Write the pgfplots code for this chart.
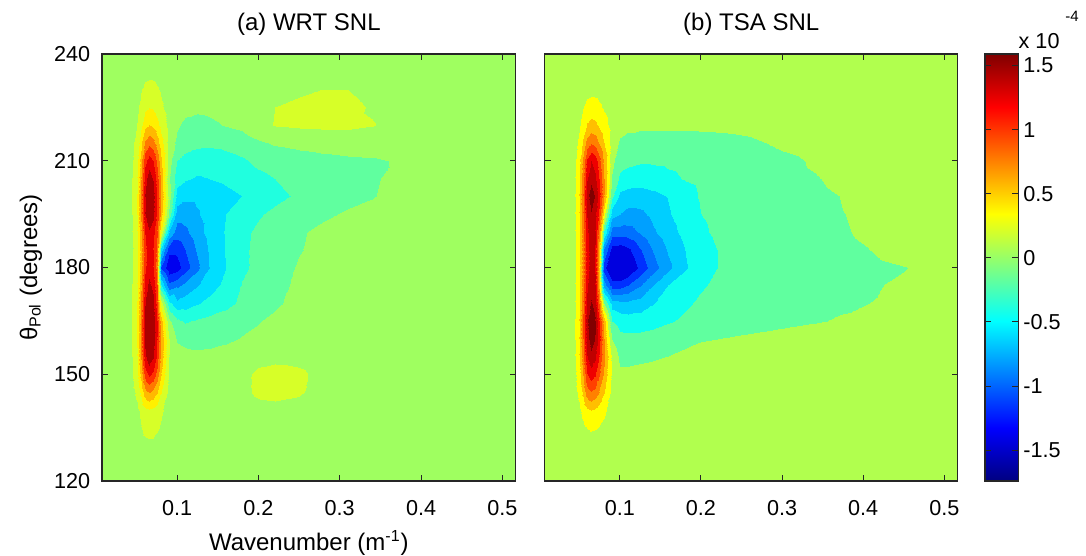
\documentclass[border=0pt]{standalone}
\usepackage{fontspec}
\setmainfont{Liberation Sans}
\usepackage{pgfplots}
\pgfplotsset{compat=1.18}
\pgfplotsset{
  colormap={wrt}{rgb255(0pt)=(0,0,239) rgb255(70pt)=(0,48,255) rgb255(90pt)=(0,112,255) rgb255(110pt)=(0,175,255) rgb255(130pt)=(0,223,255) rgb255(150pt)=(32,255,223) rgb255(170pt)=(96,255,159) rgb255(190pt)=(159,255,96) rgb255(210pt)=(215,255,40) rgb255(230pt)=(255,240,0) rgb255(250pt)=(255,185,0) rgb255(270pt)=(255,120,0) rgb255(290pt)=(255,48,0) rgb255(310pt)=(232,0,0) rgb255(330pt)=(170,0,0) rgb255(400pt)=(170,0,0)},
  colormap={tsa}{rgb255(0pt)=(0,0,223) rgb255(70pt)=(0,48,255) rgb255(90pt)=(0,112,255) rgb255(110pt)=(0,160,255) rgb255(130pt)=(0,207,255) rgb255(150pt)=(16,255,239) rgb255(170pt)=(96,255,159) rgb255(190pt)=(177,255,78) rgb255(210pt)=(255,255,0) rgb255(230pt)=(255,191,0) rgb255(250pt)=(255,128,0) rgb255(270pt)=(255,64,0) rgb255(290pt)=(239,0,0) rgb255(310pt)=(191,0,0) rgb255(330pt)=(128,0,0) rgb255(400pt)=(128,0,0)},
  panel/.style={
    scale only axis, width=206.85pt, height=213.5pt, anchor=south west,
    xmin=0.0075, xmax=0.5165, ymin=120, ymax=240,
    xtick={0.1,0.2,0.3,0.4,0.5}, xticklabels={0.1,0.2,0.3,0.4,0.5},
    ytick={120,150,180,210,240},
    tick align=inside, major tick length=3pt,
    tick style={black!85, line width=0.5pt},
    axis line style={black!85, line width=0.6pt},
    tick label style={font=\fontsize{10.8}{13}\selectfont},
    xticklabel style={yshift=-6pt},
    yticklabel style={xshift=-2.4pt},
    point meta min=-2, point meta max=2,
    colormap access=piecewise constant,
    every axis title/.style={at={(0.5,1)}, anchor=base, yshift=11.5pt, font=\fontsize{12}{14}\selectfont},
    every axis x label/.style={at={(0.5,0)}, anchor=base, yshift=-34.85pt, font=\fontsize{12}{14}\selectfont},
    every axis y label/.style={at={(-0.1721,0.5)}, rotate=90, anchor=center, font=\fontsize{12}{14}\selectfont},
    axis on top,
  },
}
\begin{document}
\begin{tikzpicture}
\useasboundingbox (0,0) rectangle (543pt,278pt);
% ---------------- (a) WRT SNL ----------------
\begin{axis}[panel, at={(51pt,37.5pt)}, colormap name=wrt,
  title={(a) WRT SNL},
  xlabel={Wavenumber (m\textsuperscript{-1})},
  ylabel={θ\textsubscript{Pol} (degrees)},
  yticklabels={120,150,180,210,240}]
\addplot[surf, shader=interp, mesh/rows=25, mesh/cols=28, point meta=explicit] coordinates {
(.0075,240)[0] (.03,240)[0] (.04,240)[0] (.045,240)[0] (.05,240)[0] (.055,240)[0] (.06,240)[0] (.065,240)[0] (.07,240)[0] (.075,240)[0] (.08,240)[0] (.09,240)[0] (.1,240)[0] (.11,240)[0] (.125,240)[0] (.14,240)[0] (.16,240)[0] (.18,240)[0] (.2,240)[0] (.22,240)[0] (.25,240)[0] (.28,240)[0] (.31,240)[0] (.34,240)[0] (.37,240)[0] (.4,240)[0] (.45,240)[0] (.5165,240)[0]
(.0075,235)[0] (.03,235)[0] (.04,235)[0] (.045,235)[0] (.05,235)[.01] (.055,235)[.03] (.06,235)[.04] (.065,235)[.05] (.07,235)[.05] (.075,235)[.036] (.08,235)[.023] (.09,235)[0] (.1,235)[0] (.11,235)[0] (.125,235)[0] (.14,235)[0] (.16,235)[0] (.18,235)[0] (.2,235)[0] (.22,235)[0] (.25,235)[0] (.28,235)[0] (.31,235)[0] (.34,235)[0] (.37,235)[0] (.4,235)[0] (.45,235)[0] (.5165,235)[0]
(.0075,230)[0] (.03,230)[0] (.04,230)[0] (.045,230)[.01] (.05,230)[.03] (.055,230)[.09] (.06,230)[.15] (.065,230)[.17] (.07,230)[.16] (.075,230)[.12] (.08,230)[.08] (.09,230)[.01] (.1,230)[0] (.11,230)[0] (.125,230)[0] (.14,230)[0] (.16,230)[0] (.18,230)[0] (.2,230)[0] (.22,230)[0] (.25,230)[.07] (.28,230)[.105] (.31,230)[.1] (.34,230)[.04] (.37,230)[0] (.4,230)[0] (.45,230)[0] (.5165,230)[0]
(.0075,225)[0] (.03,225)[0] (.04,225)[.01] (.045,225)[.02] (.05,225)[.06] (.055,225)[.15] (.06,225)[.25] (.065,225)[.29] (.07,225)[.27] (.075,225)[.21] (.08,225)[.13] (.09,225)[.02] (.1,225)[-.03] (.11,225)[-.06] (.125,225)[-.07] (.14,225)[-.06] (.16,225)[-.03] (.18,225)[0] (.2,225)[.05] (.22,225)[.1] (.25,225)[.14] (.28,225)[.16] (.31,225)[.15] (.34,225)[.08] (.37,225)[.03] (.4,225)[0] (.45,225)[0] (.5165,225)[0]
(.0075,220)[0] (.03,220)[0] (.04,220)[.01] (.045,220)[.04] (.05,220)[.1] (.055,220)[.25] (.06,220)[.44] (.065,220)[.5] (.07,220)[.46] (.075,220)[.36] (.08,220)[.23] (.09,220)[.03] (.1,220)[-.08] (.11,220)[-.13] (.125,220)[-.15] (.14,220)[-.13] (.16,220)[-.09] (.18,220)[-.05] (.2,220)[.04] (.22,220)[.11] (.25,220)[.13] (.28,220)[.14] (.31,220)[.14] (.34,220)[.11] (.37,220)[.04] (.4,220)[0] (.45,220)[0] (.5165,220)[0]
(.0075,215)[0] (.03,215)[0] (.04,215)[.02] (.045,215)[.06] (.05,215)[.17] (.055,215)[.43] (.06,215)[.74] (.065,215)[.85] (.07,215)[.78] (.075,215)[.61] (.08,215)[.38] (.09,215)[.01] (.1,215)[-.14] (.11,215)[-.2] (.125,215)[-.25] (.14,215)[-.26] (.16,215)[-.24] (.18,215)[-.2] (.2,215)[-.13] (.22,215)[-.08] (.25,215)[-.05] (.28,215)[-.03] (.31,215)[-.02] (.34,215)[-.01] (.37,215)[0] (.4,215)[0] (.45,215)[0] (.5165,215)[0]
(.0075,210)[0] (.03,210)[0] (.04,210)[.02] (.045,210)[.08] (.05,210)[.24] (.055,210)[.6] (.06,210)[1.04] (.065,210)[1.2] (.07,210)[1.1] (.075,210)[.86] (.08,210)[.54] (.09,210)[-.02] (.1,210)[-.3] (.11,210)[-.38] (.125,210)[-.42] (.14,210)[-.42] (.16,210)[-.38] (.18,210)[-.33] (.2,210)[-.26] (.22,210)[-.22] (.25,210)[-.18] (.28,210)[-.15] (.31,210)[-.13] (.34,210)[-.12] (.37,210)[-.09] (.4,210)[-.03] (.45,210)[0] (.5165,210)[0]
(.0075,205)[0] (.03,205)[0] (.04,205)[.03] (.045,205)[.1] (.05,205)[.28] (.055,205)[.7] (.06,205)[1.22] (.065,205)[1.4] (.07,205)[1.29] (.075,205)[1] (.08,205)[.63] (.09,205)[-.08] (.1,205)[-.42] (.11,205)[-.48] (.125,205)[-.52] (.14,205)[-.5] (.16,205)[-.46] (.18,205)[-.4] (.2,205)[-.35] (.22,205)[-.3] (.25,205)[-.22] (.28,205)[-.18] (.31,205)[-.15] (.34,205)[-.12] (.37,205)[-.06] (.4,205)[-.02] (.45,205)[0] (.5165,205)[0]
(.0075,200)[0] (.03,200)[0] (.04,200)[.03] (.045,200)[.1] (.05,200)[.3] (.055,200)[.75] (.06,200)[1.3] (.065,200)[1.5] (.07,200)[1.38] (.075,200)[1.08] (.08,200)[.68] (.09,200)[0] (.1,200)[-.58] (.11,200)[-.65] (.125,200)[-.66] (.14,200)[-.62] (.16,200)[-.56] (.18,200)[-.5] (.2,200)[-.42] (.22,200)[-.35] (.25,200)[-.27] (.28,200)[-.2] (.31,200)[-.15] (.34,200)[-.11] (.37,200)[-.05] (.4,200)[-.02] (.45,200)[0] (.5165,200)[0]
(.0075,195)[0] (.03,195)[0] (.04,195)[.03] (.045,195)[.1] (.05,195)[.3] (.055,195)[.74] (.06,195)[1.29] (.065,195)[1.48] (.07,195)[1.36] (.075,195)[1.07] (.08,195)[.6] (.09,195)[-.15] (.1,195)[-.8] (.11,195)[-.8] (.125,195)[-.72] (.14,195)[-.62] (.16,195)[-.5] (.18,195)[-.4] (.2,195)[-.32] (.22,195)[-.26] (.25,195)[-.18] (.28,195)[-.13] (.31,195)[-.08] (.34,195)[-.05] (.37,195)[-.02] (.4,195)[0] (.45,195)[0] (.5165,195)[0]
(.0075,190)[0] (.03,190)[0] (.04,190)[.03] (.045,190)[.09] (.05,190)[.26] (.055,190)[.64] (.06,190)[1.11] (.065,190)[1.28] (.07,190)[1.18] (.075,190)[.92] (.08,190)[.3] (.09,190)[-.7] (.1,190)[-1] (.11,190)[-.95] (.125,190)[-.78] (.14,190)[-.62] (.16,190)[-.48] (.18,190)[-.34] (.2,190)[-.27] (.22,190)[-.21] (.25,190)[-.12] (.28,190)[-.06] (.31,190)[-.03] (.34,190)[0] (.37,190)[0] (.4,190)[0] (.45,190)[0] (.5165,190)[0]
(.0075,185)[0] (.03,185)[0] (.04,185)[.02] (.045,185)[.08] (.05,185)[.24] (.055,185)[.6] (.06,185)[1.04] (.065,185)[1.2] (.07,185)[1.1] (.075,185)[.85] (.08,185)[-.6] (.09,185)[-1.25] (.1,185)[-1.25] (.11,185)[-1.1] (.125,185)[-.88] (.14,185)[-.66] (.16,185)[-.48] (.18,185)[-.33] (.2,185)[-.26] (.22,185)[-.19] (.25,185)[-.11] (.28,185)[-.05] (.31,185)[-.02] (.34,185)[0] (.37,185)[0] (.4,185)[0] (.45,185)[0] (.5165,185)[0]
(.0075,180)[0] (.03,180)[0] (.04,180)[.02] (.045,180)[.09] (.05,180)[.24] (.055,180)[.61] (.06,180)[1.06] (.065,180)[1.22] (.07,180)[1.12] (.075,180)[.8] (.08,180)[-1.1] (.09,180)[-1.45] (.1,180)[-1.38] (.11,180)[-1.2] (.125,180)[-.95] (.14,180)[-.68] (.16,180)[-.5] (.18,180)[-.33] (.2,180)[-.26] (.22,180)[-.19] (.25,180)[-.08] (.28,180)[-.04] (.31,180)[-.02] (.34,180)[0] (.37,180)[0] (.4,180)[0] (.45,180)[0] (.5165,180)[0]
(.0075,175)[0] (.03,175)[0] (.04,175)[.03] (.045,175)[.1] (.05,175)[.27] (.055,175)[.68] (.06,175)[1.18] (.065,175)[1.35] (.07,175)[1.24] (.075,175)[.9] (.08,175)[-.5] (.09,175)[-1.05] (.1,175)[-.95] (.11,175)[-.85] (.125,175)[-.72] (.14,175)[-.58] (.16,175)[-.45] (.18,175)[-.29] (.2,175)[-.22] (.22,175)[-.16] (.25,175)[-.06] (.28,175)[-.02] (.31,175)[0] (.34,175)[0] (.37,175)[0] (.4,175)[0] (.45,175)[0] (.5165,175)[0]
(.0075,170)[0] (.03,170)[0] (.04,170)[.03] (.045,170)[.1] (.05,170)[.3] (.055,170)[.74] (.06,170)[1.29] (.065,170)[1.48] (.07,170)[1.36] (.075,170)[1] (.08,170)[.2] (.09,170)[-.45] (.1,170)[-.65] (.11,170)[-.6] (.125,170)[-.52] (.14,170)[-.44] (.16,170)[-.36] (.18,170)[-.26] (.2,170)[-.2] (.22,170)[-.13] (.25,170)[-.04] (.28,170)[-.01] (.31,170)[0] (.34,170)[0] (.37,170)[0] (.4,170)[0] (.45,170)[0] (.5165,170)[0]
(.0075,165)[0] (.03,165)[0] (.04,165)[.03] (.045,165)[.11] (.05,165)[.31] (.055,165)[.78] (.06,165)[1.35] (.065,165)[1.55] (.07,165)[1.43] (.075,165)[1.1] (.08,165)[.6] (.09,165)[-.05] (.1,165)[-.26] (.11,165)[-.32] (.125,165)[-.28] (.14,165)[-.24] (.16,165)[-.2] (.18,165)[-.15] (.2,165)[-.11] (.22,165)[-.06] (.25,165)[-.01] (.28,165)[0] (.31,165)[0] (.34,165)[0] (.37,165)[0] (.4,165)[0] (.45,165)[0] (.5165,165)[0]
(.0075,160)[0] (.03,160)[0] (.04,160)[.03] (.045,160)[.11] (.05,160)[.31] (.055,160)[.78] (.06,160)[1.35] (.065,160)[1.55] (.07,160)[1.43] (.075,160)[1.1] (.08,160)[.68] (.09,160)[.1] (.1,160)[-.12] (.11,160)[-.15] (.125,160)[-.17] (.14,160)[-.16] (.16,160)[-.13] (.18,160)[-.09] (.2,160)[-.06] (.22,160)[-.03] (.25,160)[0] (.28,160)[0] (.31,160)[0] (.34,160)[0] (.37,160)[0] (.4,160)[0] (.45,160)[0] (.5165,160)[0]
(.0075,155)[0] (.03,155)[0] (.04,155)[.03] (.045,155)[.1] (.05,155)[.29] (.055,155)[.73] (.06,155)[1.26] (.065,155)[1.45] (.07,155)[1.33] (.075,155)[1.04] (.08,155)[.65] (.09,155)[.1] (.1,155)[-.02] (.11,155)[-.05] (.125,155)[-.06] (.14,155)[-.05] (.16,155)[-.03] (.18,155)[0] (.2,155)[.05] (.22,155)[.06] (.25,155)[.05] (.28,155)[.01] (.31,155)[0] (.34,155)[0] (.37,155)[0] (.4,155)[0] (.45,155)[0] (.5165,155)[0]
(.0075,150)[0] (.03,150)[0] (.04,150)[.02] (.045,150)[.08] (.05,150)[.23] (.055,150)[.58] (.06,150)[1] (.065,150)[1.15] (.07,150)[1.06] (.075,150)[.83] (.08,150)[.52] (.09,150)[.08] (.1,150)[.01] (.11,150)[0] (.125,150)[0] (.14,150)[0] (.16,150)[0] (.18,150)[.06] (.2,150)[.13] (.22,150)[.15] (.25,150)[.13] (.28,150)[.05] (.31,150)[0] (.34,150)[0] (.37,150)[0] (.4,150)[0] (.45,150)[0] (.5165,150)[0]
(.0075,145)[0] (.03,145)[0] (.04,145)[.01] (.045,145)[.05] (.05,145)[.14] (.055,145)[.36] (.06,145)[.63] (.065,145)[.72] (.07,145)[.66] (.075,145)[.52] (.08,145)[.32] (.09,145)[.05] (.1,145)[0] (.11,145)[0] (.125,145)[0] (.14,145)[0] (.16,145)[0] (.18,145)[.06] (.2,145)[.13] (.22,145)[.14] (.25,145)[.12] (.28,145)[.03] (.31,145)[0] (.34,145)[0] (.37,145)[0] (.4,145)[0] (.45,145)[0] (.5165,145)[0]
(.0075,140)[0] (.03,140)[0] (.04,140)[.01] (.045,140)[.02] (.05,140)[.06] (.055,140)[.14] (.06,140)[.24] (.065,140)[.28] (.07,140)[.26] (.075,140)[.2] (.08,140)[.13] (.09,140)[.02] (.1,140)[0] (.11,140)[0] (.125,140)[0] (.14,140)[0] (.16,140)[0] (.18,140)[0] (.2,140)[.05] (.22,140)[.06] (.25,140)[.04] (.28,140)[0] (.31,140)[0] (.34,140)[0] (.37,140)[0] (.4,140)[0] (.45,140)[0] (.5165,140)[0]
(.0075,135)[0] (.03,135)[0] (.04,135)[0] (.045,135)[.01] (.05,135)[.03] (.055,135)[.09] (.06,135)[.15] (.065,135)[.17] (.07,135)[.16] (.075,135)[.12] (.08,135)[.08] (.09,135)[.01] (.1,135)[0] (.11,135)[0] (.125,135)[0] (.14,135)[0] (.16,135)[0] (.18,135)[0] (.2,135)[0] (.22,135)[0] (.25,135)[0] (.28,135)[0] (.31,135)[0] (.34,135)[0] (.37,135)[0] (.4,135)[0] (.45,135)[0] (.5165,135)[0]
(.0075,130)[0] (.03,130)[0] (.04,130)[0] (.045,130)[0] (.05,130)[.01] (.055,130)[.03] (.06,130)[.05] (.065,130)[.06] (.07,130)[.06] (.075,130)[.04] (.08,130)[.03] (.09,130)[0] (.1,130)[0] (.11,130)[0] (.125,130)[0] (.14,130)[0] (.16,130)[0] (.18,130)[0] (.2,130)[0] (.22,130)[0] (.25,130)[0] (.28,130)[0] (.31,130)[0] (.34,130)[0] (.37,130)[0] (.4,130)[0] (.45,130)[0] (.5165,130)[0]
(.0075,125)[0] (.03,125)[0] (.04,125)[0] (.045,125)[0] (.05,125)[0] (.055,125)[0] (.06,125)[0] (.065,125)[0] (.07,125)[0] (.075,125)[0] (.08,125)[0] (.09,125)[0] (.1,125)[0] (.11,125)[0] (.125,125)[0] (.14,125)[0] (.16,125)[0] (.18,125)[0] (.2,125)[0] (.22,125)[0] (.25,125)[0] (.28,125)[0] (.31,125)[0] (.34,125)[0] (.37,125)[0] (.4,125)[0] (.45,125)[0] (.5165,125)[0]
(.0075,120)[0] (.03,120)[0] (.04,120)[0] (.045,120)[0] (.05,120)[0] (.055,120)[0] (.06,120)[0] (.065,120)[0] (.07,120)[0] (.075,120)[0] (.08,120)[0] (.09,120)[0] (.1,120)[0] (.11,120)[0] (.125,120)[0] (.14,120)[0] (.16,120)[0] (.18,120)[0] (.2,120)[0] (.22,120)[0] (.25,120)[0] (.28,120)[0] (.31,120)[0] (.34,120)[0] (.37,120)[0] (.4,120)[0] (.45,120)[0] (.5165,120)[0]
};
\end{axis}
% ---------------- (b) TSA SNL ----------------
\begin{axis}[panel, at={(272.35pt,37.5pt)}, width=206.5pt, colormap name=tsa,
  title={(b) TSA SNL},
  yticklabels={}]
\addplot[surf, shader=interp, mesh/rows=25, mesh/cols=28, point meta=explicit] coordinates {
(.0075,240)[0] (.03,240)[0] (.04,240)[0] (.045,240)[0] (.05,240)[0] (.055,240)[0] (.06,240)[0] (.065,240)[0] (.07,240)[0] (.075,240)[0] (.08,240)[0] (.09,240)[0] (.1,240)[0] (.11,240)[0] (.125,240)[0] (.14,240)[0] (.16,240)[0] (.18,240)[0] (.2,240)[0] (.22,240)[0] (.25,240)[0] (.28,240)[0] (.31,240)[0] (.34,240)[0] (.37,240)[0] (.4,240)[0] (.45,240)[0] (.5165,240)[0]
(.0075,235)[0] (.03,235)[0] (.04,235)[0] (.045,235)[0] (.05,235)[0] (.055,235)[0] (.06,235)[0] (.065,235)[0] (.07,235)[0] (.075,235)[0] (.08,235)[0] (.09,235)[0] (.1,235)[0] (.11,235)[0] (.125,235)[0] (.14,235)[0] (.16,235)[0] (.18,235)[0] (.2,235)[0] (.22,235)[0] (.25,235)[0] (.28,235)[0] (.31,235)[0] (.34,235)[0] (.37,235)[0] (.4,235)[0] (.45,235)[0] (.5165,235)[0]
(.0075,230)[0] (.03,230)[0] (.04,230)[0] (.045,230)[0] (.05,230)[.01] (.055,230)[.03] (.06,230)[.04] (.065,230)[.05] (.07,230)[.05] (.075,230)[.04] (.08,230)[.02] (.09,230)[0] (.1,230)[0] (.11,230)[0] (.125,230)[0] (.14,230)[0] (.16,230)[0] (.18,230)[0] (.2,230)[0] (.22,230)[0] (.25,230)[0] (.28,230)[0] (.31,230)[0] (.34,230)[0] (.37,230)[0] (.4,230)[0] (.45,230)[0] (.5165,230)[0]
(.0075,225)[0] (.03,225)[0] (.04,225)[0] (.045,225)[.01] (.05,225)[.04] (.055,225)[.09] (.06,225)[.16] (.065,225)[.18] (.07,225)[.17] (.075,225)[.13] (.08,225)[.08] (.09,225)[.01] (.1,225)[0] (.11,225)[0] (.125,225)[0] (.14,225)[0] (.16,225)[0] (.18,225)[0] (.2,225)[0] (.22,225)[0] (.25,225)[0] (.28,225)[0] (.31,225)[0] (.34,225)[0] (.37,225)[0] (.4,225)[0] (.45,225)[0] (.5165,225)[0]
(.0075,220)[0] (.03,220)[0] (.04,220)[.01] (.045,220)[.03] (.05,220)[.07] (.055,220)[.19] (.06,220)[.32] (.065,220)[.37] (.07,220)[.34] (.075,220)[.27] (.08,220)[.17] (.09,220)[.03] (.1,220)[-.03] (.11,220)[-.06] (.125,220)[-.06] (.14,220)[-.06] (.16,220)[-.06] (.18,220)[-.06] (.2,220)[-.06] (.22,220)[-.06] (.25,220)[-.05] (.28,220)[-.03] (.31,220)[-.01] (.34,220)[0] (.37,220)[0] (.4,220)[0] (.45,220)[0] (.5165,220)[0]
(.0075,215)[0] (.03,215)[0] (.04,215)[.01] (.045,215)[.05] (.05,215)[.14] (.055,215)[.34] (.06,215)[.59] (.065,215)[.68] (.07,215)[.63] (.075,215)[.49] (.08,215)[.3] (.09,215)[0] (.1,215)[-.13] (.11,215)[-.16] (.125,215)[-.19] (.14,215)[-.2] (.16,215)[-.2] (.18,215)[-.19] (.2,215)[-.17] (.22,215)[-.16] (.25,215)[-.14] (.28,215)[-.1] (.31,215)[-.06] (.34,215)[-.03] (.37,215)[-.01] (.4,215)[0] (.45,215)[0] (.5165,215)[0]
(.0075,210)[0] (.03,210)[0] (.04,210)[.02] (.045,210)[.08] (.05,210)[.22] (.055,210)[.55] (.06,210)[.96] (.065,210)[1.1] (.07,210)[1.01] (.075,210)[.79] (.08,210)[.45] (.09,210)[-.05] (.1,210)[-.22] (.11,210)[-.26] (.125,210)[-.28] (.14,210)[-.28] (.16,210)[-.27] (.18,210)[-.25] (.2,210)[-.22] (.22,210)[-.2] (.25,210)[-.18] (.28,210)[-.16] (.31,210)[-.13] (.34,210)[-.08] (.37,210)[-.04] (.4,210)[-.01] (.45,210)[0] (.5165,210)[0]
(.0075,205)[0] (.03,205)[0] (.04,205)[.03] (.045,205)[.09] (.05,205)[.25] (.055,205)[.63] (.06,205)[1.09] (.065,205)[1.25] (.07,205)[1.15] (.075,205)[.9] (.08,205)[.5] (.09,205)[-.12] (.1,205)[-.35] (.11,205)[-.38] (.125,205)[-.4] (.14,205)[-.38] (.16,205)[-.34] (.18,205)[-.29] (.2,205)[-.26] (.22,205)[-.23] (.25,205)[-.2] (.28,205)[-.17] (.31,205)[-.14] (.34,205)[-.11] (.37,205)[-.07] (.4,205)[-.03] (.45,205)[0] (.5165,205)[0]
(.0075,200)[0] (.03,200)[0] (.04,200)[.03] (.045,200)[.1] (.05,200)[.28] (.055,200)[.7] (.06,200)[1.22] (.065,200)[1.4] (.07,200)[1.29] (.075,200)[1] (.08,200)[.5] (.09,200)[-.25] (.1,200)[-.55] (.11,200)[-.6] (.125,200)[-.6] (.14,200)[-.56] (.16,200)[-.49] (.18,200)[-.38] (.2,200)[-.28] (.22,200)[-.25] (.25,200)[-.22] (.28,200)[-.19] (.31,200)[-.16] (.34,200)[-.13] (.37,200)[-.1] (.4,200)[-.05] (.45,200)[-.01] (.5165,200)[0]
(.0075,195)[0] (.03,195)[0] (.04,195)[.03] (.045,195)[.09] (.05,195)[.26] (.055,195)[.64] (.06,195)[1.11] (.065,195)[1.28] (.07,195)[1.18] (.075,195)[.85] (.08,195)[.2] (.09,195)[-.6] (.1,195)[-.7] (.11,195)[-.76] (.125,195)[-.74] (.14,195)[-.66] (.16,195)[-.52] (.18,195)[-.4] (.2,195)[-.3] (.22,195)[-.26] (.25,195)[-.23] (.28,195)[-.2] (.31,195)[-.17] (.34,195)[-.14] (.37,195)[-.11] (.4,195)[-.07] (.45,195)[-.02] (.5165,195)[0]
(.0075,190)[0] (.03,190)[0] (.04,190)[.02] (.045,190)[.09] (.05,190)[.24] (.055,190)[.61] (.06,190)[1.06] (.065,190)[1.22] (.07,190)[1.12] (.075,190)[.6] (.08,190)[-.3] (.09,190)[-1] (.1,190)[-1] (.11,190)[-.98] (.125,190)[-.88] (.14,190)[-.74] (.16,190)[-.58] (.18,190)[-.44] (.2,190)[-.33] (.22,190)[-.27] (.25,190)[-.24] (.28,190)[-.21] (.31,190)[-.18] (.34,190)[-.15] (.37,190)[-.12] (.4,190)[-.08] (.45,190)[-.03] (.5165,190)[0]
(.0075,185)[0] (.03,185)[0] (.04,185)[.02] (.045,185)[.08] (.05,185)[.24] (.055,185)[.59] (.06,185)[1.03] (.065,185)[1.18] (.07,185)[1.09] (.075,185)[.4] (.08,185)[-.9] (.09,185)[-1.4] (.1,185)[-1.42] (.11,185)[-1.35] (.125,185)[-1.12] (.14,185)[-.9] (.16,185)[-.68] (.18,185)[-.5] (.2,185)[-.37] (.22,185)[-.3] (.25,185)[-.26] (.28,185)[-.23] (.31,185)[-.2] (.34,185)[-.17] (.37,185)[-.14] (.4,185)[-.11] (.45,185)[-.05] (.5165,185)[-.01]
(.0075,180)[0] (.03,180)[0] (.04,180)[.02] (.045,180)[.08] (.05,180)[.24] (.055,180)[.59] (.06,180)[1.03] (.065,180)[1.18] (.07,180)[1.09] (.075,180)[.35] (.08,180)[-1.2] (.09,180)[-1.62] (.1,180)[-1.6] (.11,180)[-1.5] (.125,180)[-1.25] (.14,180)[-1] (.16,180)[-.75] (.18,180)[-.52] (.2,180)[-.38] (.22,180)[-.3] (.25,180)[-.27] (.28,180)[-.24] (.31,180)[-.21] (.34,180)[-.18] (.37,180)[-.16] (.4,180)[-.14] (.45,180)[-.105] (.5165,180)[-.02]
(.0075,175)[0] (.03,175)[0] (.04,175)[.02] (.045,175)[.09] (.05,175)[.24] (.055,175)[.61] (.06,175)[1.06] (.065,175)[1.22] (.07,175)[1.12] (.075,175)[.45] (.08,175)[-.8] (.09,175)[-1.2] (.1,175)[-1.2] (.11,175)[-1.1] (.125,175)[-.92] (.14,175)[-.72] (.16,175)[-.5] (.18,175)[-.4] (.2,175)[-.32] (.22,175)[-.27] (.25,175)[-.24] (.28,175)[-.21] (.31,175)[-.18] (.34,175)[-.16] (.37,175)[-.14] (.4,175)[-.12] (.45,175)[-.08] (.5165,175)[-.01]
(.0075,170)[0] (.03,170)[0] (.04,170)[.03] (.045,170)[.09] (.05,170)[.26] (.055,170)[.66] (.06,170)[1.15] (.065,170)[1.32] (.07,170)[1.21] (.075,170)[.7] (.08,170)[-.1] (.09,170)[-.6] (.1,170)[-.65] (.11,170)[-.66] (.125,170)[-.62] (.14,170)[-.52] (.16,170)[-.4] (.18,170)[-.33] (.2,170)[-.27] (.22,170)[-.23] (.25,170)[-.2] (.28,170)[-.18] (.31,170)[-.16] (.34,170)[-.14] (.37,170)[-.12] (.4,170)[-.11] (.45,170)[-.05] (.5165,170)[0]
(.0075,165)[0] (.03,165)[0] (.04,165)[.03] (.045,165)[.1] (.05,165)[.29] (.055,165)[.73] (.06,165)[1.26] (.065,165)[1.45] (.07,165)[1.33] (.075,165)[.95] (.08,165)[.4] (.09,165)[-.3] (.1,165)[-.38] (.11,165)[-.4] (.125,165)[-.4] (.14,165)[-.37] (.16,165)[-.32] (.18,165)[-.27] (.2,165)[-.23] (.22,165)[-.2] (.25,165)[-.17] (.28,165)[-.15] (.31,165)[-.13] (.34,165)[-.11] (.37,165)[-.09] (.4,165)[-.05] (.45,165)[-.01] (.5165,165)[0]
(.0075,160)[0] (.03,160)[0] (.04,160)[.03] (.045,160)[.1] (.05,160)[.28] (.055,160)[.7] (.06,160)[1.22] (.065,160)[1.4] (.07,160)[1.29] (.075,160)[1] (.08,160)[.5] (.09,160)[-.1] (.1,160)[-.24] (.11,160)[-.25] (.125,160)[-.24] (.14,160)[-.22] (.16,160)[-.18] (.18,160)[-.14] (.2,160)[-.11] (.22,160)[-.1] (.25,160)[-.08] (.28,160)[-.06] (.31,160)[-.04] (.34,160)[-.03] (.37,160)[-.02] (.4,160)[0] (.45,160)[0] (.5165,160)[0]
(.0075,155)[0] (.03,155)[0] (.04,155)[.03] (.045,155)[.09] (.05,155)[.25] (.055,155)[.63] (.06,155)[1.09] (.065,155)[1.25] (.07,155)[1.15] (.075,155)[.9] (.08,155)[.56] (.09,155)[.05] (.1,155)[-.14] (.11,155)[-.14] (.125,155)[-.13] (.14,155)[-.12] (.16,155)[-.1] (.18,155)[-.07] (.2,155)[-.05] (.22,155)[-.03] (.25,155)[-.02] (.28,155)[0] (.31,155)[0] (.34,155)[0] (.37,155)[0] (.4,155)[0] (.45,155)[0] (.5165,155)[0]
(.0075,150)[0] (.03,150)[0] (.04,150)[.02] (.045,150)[.07] (.05,150)[.2] (.055,150)[.51] (.06,150)[.89] (.065,150)[1.02] (.07,150)[.94] (.075,150)[.73] (.08,150)[.46] (.09,150)[.07] (.1,150)[-.07] (.11,150)[-.07] (.125,150)[-.06] (.14,150)[-.05] (.16,150)[-.03] (.18,150)[-.02] (.2,150)[0] (.22,150)[0] (.25,150)[0] (.28,150)[0] (.31,150)[0] (.34,150)[0] (.37,150)[0] (.4,150)[0] (.45,150)[0] (.5165,150)[0]
(.0075,145)[0] (.03,145)[0] (.04,145)[.01] (.045,145)[.05] (.05,145)[.14] (.055,145)[.35] (.06,145)[.61] (.065,145)[.7] (.07,145)[.64] (.075,145)[.5] (.08,145)[.32] (.09,145)[.05] (.1,145)[0] (.11,145)[0] (.125,145)[0] (.14,145)[0] (.16,145)[0] (.18,145)[0] (.2,145)[0] (.22,145)[0] (.25,145)[0] (.28,145)[0] (.31,145)[0] (.34,145)[0] (.37,145)[0] (.4,145)[0] (.45,145)[0] (.5165,145)[0]
(.0075,140)[0] (.03,140)[0] (.04,140)[.01] (.045,140)[.02] (.05,140)[.06] (.055,140)[.15] (.06,140)[.26] (.065,140)[.3] (.07,140)[.28] (.075,140)[.22] (.08,140)[.14] (.09,140)[.02] (.1,140)[0] (.11,140)[0] (.125,140)[0] (.14,140)[0] (.16,140)[0] (.18,140)[0] (.2,140)[0] (.22,140)[0] (.25,140)[0] (.28,140)[0] (.31,140)[0] (.34,140)[0] (.37,140)[0] (.4,140)[0] (.45,140)[0] (.5165,140)[0]
(.0075,135)[0] (.03,135)[0] (.04,135)[0] (.045,135)[.01] (.05,135)[.02] (.055,135)[.06] (.06,135)[.1] (.065,135)[.12] (.07,135)[.11] (.075,135)[.09] (.08,135)[.05] (.09,135)[.01] (.1,135)[0] (.11,135)[0] (.125,135)[0] (.14,135)[0] (.16,135)[0] (.18,135)[0] (.2,135)[0] (.22,135)[0] (.25,135)[0] (.28,135)[0] (.31,135)[0] (.34,135)[0] (.37,135)[0] (.4,135)[0] (.45,135)[0] (.5165,135)[0]
(.0075,130)[0] (.03,130)[0] (.04,130)[0] (.045,130)[0] (.05,130)[0] (.055,130)[.01] (.06,130)[.02] (.065,130)[.02] (.07,130)[.02] (.075,130)[.01] (.08,130)[.01] (.09,130)[0] (.1,130)[0] (.11,130)[0] (.125,130)[0] (.14,130)[0] (.16,130)[0] (.18,130)[0] (.2,130)[0] (.22,130)[0] (.25,130)[0] (.28,130)[0] (.31,130)[0] (.34,130)[0] (.37,130)[0] (.4,130)[0] (.45,130)[0] (.5165,130)[0]
(.0075,125)[0] (.03,125)[0] (.04,125)[0] (.045,125)[0] (.05,125)[0] (.055,125)[0] (.06,125)[0] (.065,125)[0] (.07,125)[0] (.075,125)[0] (.08,125)[0] (.09,125)[0] (.1,125)[0] (.11,125)[0] (.125,125)[0] (.14,125)[0] (.16,125)[0] (.18,125)[0] (.2,125)[0] (.22,125)[0] (.25,125)[0] (.28,125)[0] (.31,125)[0] (.34,125)[0] (.37,125)[0] (.4,125)[0] (.45,125)[0] (.5165,125)[0]
(.0075,120)[0] (.03,120)[0] (.04,120)[0] (.045,120)[0] (.05,120)[0] (.055,120)[0] (.06,120)[0] (.065,120)[0] (.07,120)[0] (.075,120)[0] (.08,120)[0] (.09,120)[0] (.1,120)[0] (.11,120)[0] (.125,120)[0] (.14,120)[0] (.16,120)[0] (.18,120)[0] (.2,120)[0] (.22,120)[0] (.25,120)[0] (.28,120)[0] (.31,120)[0] (.34,120)[0] (.37,120)[0] (.4,120)[0] (.45,120)[0] (.5165,120)[0]
};
\end{axis}
% ---------------- colorbar ----------------
\begin{axis}[scale only axis, width=16.65pt, height=213.5pt, at={(492.5pt,37.5pt)}, anchor=south west,
  xmin=0, xmax=1, ymin=-1.74, ymax=1.59, xtick=\empty,
  ytick={-1.5,-1,-0.5,0,0.5,1,1.5}, yticklabels={-1.5,-1,-0.5,0,0.5,1,1.5},
  yticklabel pos=right, tick align=inside, major tick length=3pt,
  tick style={black!85, line width=0.5pt},
  axis line style={black!85, line width=0.6pt},
  tick label style={font=\fontsize{10.8}{13}\selectfont},
  yticklabel style={xshift=-1pt},
  colormap/jet, point meta min=-1.74, point meta max=1.59, axis on top]
\addplot[surf, shader=interp, mesh/rows=6, mesh/cols=2, point meta=explicit] coordinates {
(0,-1.74)[-1.74] (1,-1.74)[-1.74]
(0,-1.324)[-1.324] (1,-1.324)[-1.324]
(0,-0.491)[-0.491] (1,-0.491)[-0.491]
(0,0.341)[0.341] (1,0.341)[0.341]
(0,1.174)[1.174] (1,1.174)[1.174]
(0,1.59)[1.59] (1,1.59)[1.59]
};
\end{axis}
\node[anchor=base west, font=\fontsize{10.8}{13}\selectfont, inner sep=0] at (509.15pt,253.85pt) {x 10};
\node[anchor=base west, font=\fontsize{7.5}{9}\selectfont, inner sep=0] at (532.5pt,267.15pt) {-4};
\end{tikzpicture}
\end{document}
